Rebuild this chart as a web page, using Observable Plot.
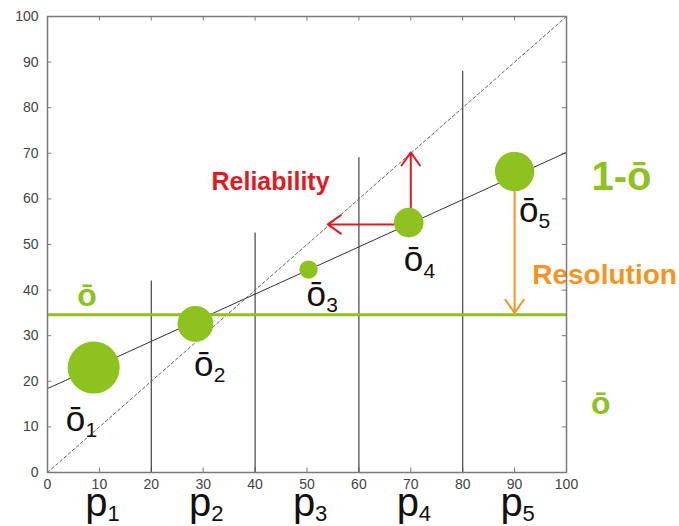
<!DOCTYPE html>
<html><head><meta charset="utf-8">
<script src="https://cdn.jsdelivr.net/npm/d3@7"></script>
<script src="https://cdn.jsdelivr.net/npm/@observablehq/plot@0.6"></script>
<style>body{margin:0;background:#fff}</style>
</head><body><div id="chart"></div>
<script>
// ---- data ----
const xTicks = [0, 10, 20, 30, 40, 50, 60, 70, 80, 90, 100];
const yTicks = [0, 10, 20, 30, 40, 50, 60, 70, 80, 90, 100];
const binEdges = [20, 40, 60, 80];
const binLineTops = [42, 52.5, 69, 88];
const diagX = [0, 100];
const diagY = [0, 100];
const fitX = [0, 100];
const fitY = [18.4, 70.2];
const climatology = 34.6;
const forecastProb = [8.9, 28.5, 50.3, 69.6, 90];
const observedFreq = [23, 32.6, 44.5, 54.8, 66];
const binCounts = [40, 19, 5, 13, 23];
const obsLabels = ["ō", "ō", "ō", "ō", "ō"];
const obsSubs = ["1", "2", "3", "4", "5"];
const obsLabelX = [5.4, 30.1, 51.8, 70.5, 92.7];
const obsLabelY = [11.2, 23.2, 38.6, 46.1, 57.0];
const pLabels = ["p", "p", "p", "p", "p"];
const pSubs = ["1", "2", "3", "4", "5"];
const pX = [10, 30, 50, 70, 90];
const relX1 = [70, 66.7], relY1 = [57.9, 54.4], relX2 = [70, 54], relY2 = [70.2, 54.4];
const resX = [90], resY1 = [61.5], resY2 = [35];
const noteText = ["Reliability", "Resolution"];
const noteX = [31.6, 93.4], noteY = [63.6, 43.4];
const greenText = ["ō", "1-ō", "ō"];
const greenX = [7.6, 110.6, 106.6], greenY = [38.8, 64.8, 15.0];

const GREEN = "#8dc21f", RED = "#e3191f", ORANGE = "#f5951f", FRAME = "#7a7a7a";

const circles = forecastProb.map((x, i) => ({x, y: observedFreq[i], n: binCounts[i]}));
const bins = binEdges.map((x, i) => ({x, top: binLineTops[i]}));
const relArrows = relX1.map((d, i) => ({x1: relX1[i], y1: relY1[i], x2: relX2[i], y2: relY2[i]}));
const resArrows = resX.map((d, i) => ({x: resX[i], y1: resY1[i], y2: resY2[i]}));
const obsLab = obsLabels.map((t, i) => ({t, s: obsSubs[i], x: obsLabelX[i], y: obsLabelY[i]}));
const pLab = pLabels.map((t, i) => ({t, s: pSubs[i], x: pX[i]}));
const notes = noteText.map((t, i) => ({t, x: noteX[i], y: noteY[i]}));
const greens = greenText.map((t, i) => ({t, x: greenX[i], y: greenY[i]}));

const chart = Plot.plot({
  width: 679, height: 526,
  marginLeft: 47, marginRight: 113, marginTop: 16, marginBottom: 54,
  x: {domain: [0, 100]},
  y: {domain: [0, 100]},
  r: {type: "sqrt", domain: [0, 40], range: [0, 26]},
  style: {fontFamily: "'Liberation Sans', Arial, sans-serif", background: "#fff"},
  marks: [
    Plot.axisX(xTicks, {tickSize: 0, tickPadding: 7, fontSize: 14, color: "#444"}),
    Plot.axisY(yTicks, {tickSize: 0, tickPadding: 9, fontSize: 14, color: "#444"}),
    // inward ticks on all four sides
    Plot.ruleX(xTicks, {x: d => d, y1: () => 0, y2: () => 1, stroke: FRAME}),
    Plot.ruleX(xTicks, {x: d => d, y1: () => 100, y2: () => 99, stroke: FRAME}),
    Plot.ruleY(yTicks, {y: d => d, x1: () => 0, x2: () => 0.8, stroke: FRAME}),
    Plot.ruleY(yTicks, {y: d => d, x1: () => 100, x2: () => 99.2, stroke: FRAME}),
    // bin boundaries
    Plot.ruleX(bins, {x: "x", y1: () => 0, y2: "top", stroke: "#444", strokeWidth: 1.2}),
    // perfect reliability diagonal
    Plot.line(diagX, {x: d => d, y: (d, i) => diagY[i], stroke: "#666", strokeWidth: 1, strokeDasharray: "3,2.5"}),
    // fitted line
    Plot.line(fitX, {x: d => d, y: (d, i) => fitY[i], stroke: "#333", strokeWidth: 1}),
    // climatology
    Plot.ruleY([climatology], {x1: () => 0, x2: () => 100, stroke: GREEN, strokeWidth: 3}),
    // arrows
    Plot.arrow(relArrows, {x1: "x1", y1: "y1", x2: "x2", y2: "y2", stroke: RED, strokeWidth: 2, headLength: 12, headAngle: 70}),
    Plot.arrow(resArrows, {x1: "x", y1: "y1", x2: "x", y2: "y2", stroke: ORANGE, strokeWidth: 2, headLength: 12, headAngle: 70}),
    // circles
    Plot.dot(circles, {x: "x", y: "y", r: "n", fill: GREEN}),
    // ō labels with subscripts
    Plot.text(obsLab, {x: "x", y: "y", text: "t", dy: -2, fontSize: 35, fill: "#111"}),
    Plot.text(obsLab, {x: "x", y: "y", text: "s", dx: 10, dy: 9, textAnchor: "start", fontSize: 21, fill: "#111"}),
    // p labels with subscripts
    Plot.text(pLab, {x: "x", text: "t", frameAnchor: "bottom", lineAnchor: "middle", dx: -3, dy: 31, fontSize: 40, fill: "#111"}),
    Plot.text(pLab, {x: "x", text: "s", frameAnchor: "bottom", lineAnchor: "middle", dx: 8, dy: 41, textAnchor: "start", fontSize: 22, fill: "#111"}),
    // annotations
    Plot.text(notes.slice(0, 1), {x: "x", y: "y", text: "t", textAnchor: "start", fontSize: 25, fontWeight: "bold", fill: RED}),
    Plot.text(notes.slice(1), {x: "x", y: "y", text: "t", textAnchor: "start", fontSize: 28, fontWeight: "bold", fill: ORANGE}),
    Plot.text(greens, {x: "x", y: "y", text: "t", fontSize: (d, i) => i === 1 ? 40 : 32, fontWeight: "bold", fill: GREEN}),
    Plot.frame({stroke: FRAME, strokeWidth: 1.5})
  ]
});
document.getElementById("chart").append(chart);
</script>
</body></html>
